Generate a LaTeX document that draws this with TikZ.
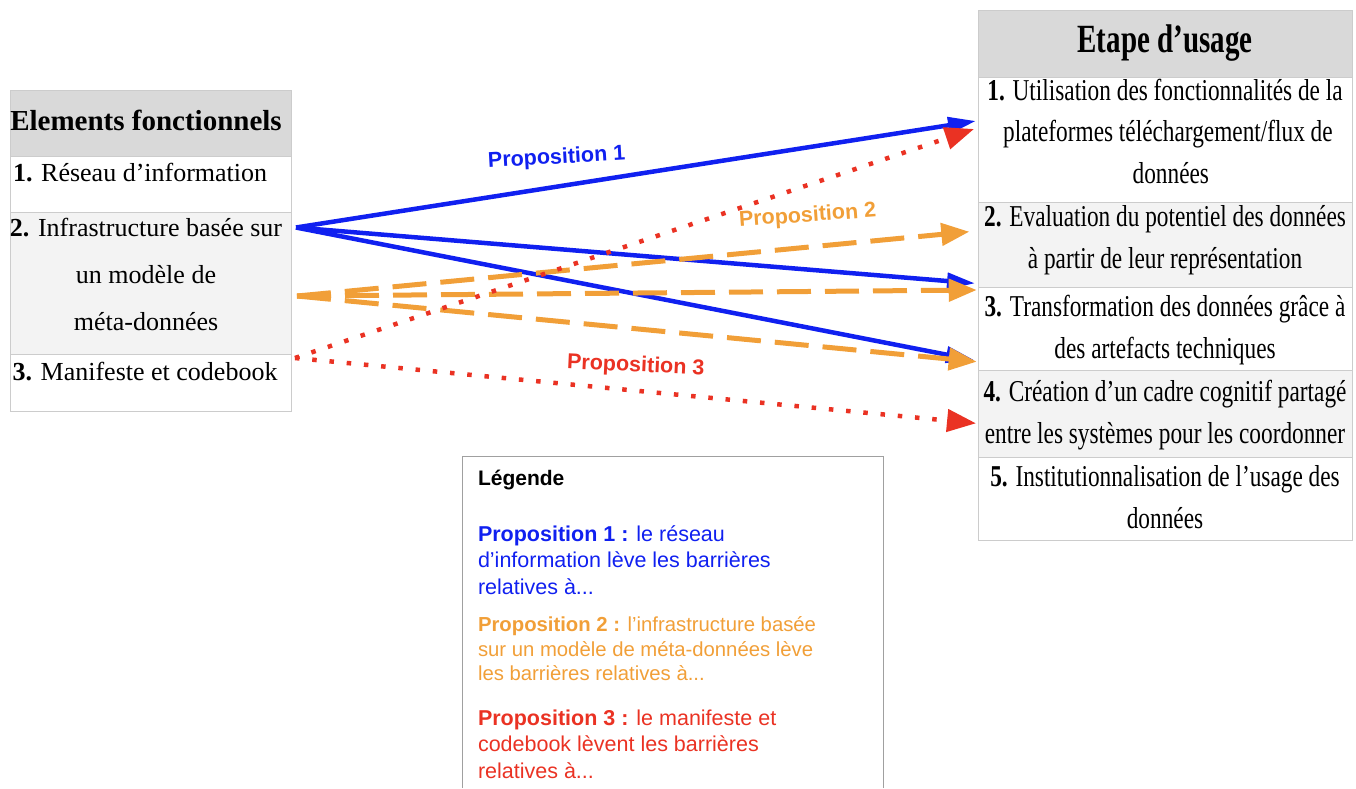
\documentclass[tikz,border=0pt]{standalone}
\usepackage{graphicx}
\usepackage{fontspec}
\setmainfont{Liberation Serif}
\newfontfamily\lsans{Liberation Sans}
\usetikzlibrary{arrows.meta}
\definecolor{pblue}{RGB}{16,32,240}
\definecolor{porange}{RGB}{241,159,56}
\definecolor{pred}{RGB}{234,50,35}
\definecolor{hdrgray}{RGB}{217,217,217}
\definecolor{rowgray}{RGB}{243,243,243}
\definecolor{cellline}{RGB}{204,204,204}
\definecolor{legline}{RGB}{160,160,160}
\newcommand{\vsr}[1]{\scalebox{1}[1.3]{#1}}
\newcommand{\vsh}[1]{\scalebox{1}[1.38]{#1}}
\begin{document}
\begin{tikzpicture}[x=1pt,y=-1pt,
  cell/.style={draw=cellline, line width=1pt, anchor=north west, inner sep=0pt, outer sep=0pt},
  ltxt/.style={inner sep=0pt, outer sep=0pt, font=\fontsize{26}{46.7}\selectfont, align=center},
  rtxt/.style={inner sep=0pt, outer sep=0pt, anchor=base, font=\fontsize{23.3}{41.5}\selectfont, align=center},
  legtxt/.style={inner sep=0pt, outer sep=0pt, anchor=base west, align=left, font=\lsans},
  plabel/.style={inner sep=0pt, outer sep=0pt, anchor=base, font=\lsans\bfseries\fontsize{21.5}{26}\selectfont},
  bluearrow/.style={pblue, line width=4.5pt, -{Triangle[length=28pt,width=16pt]}},
  orangearrow/.style={porange, line width=5pt, dash pattern=on 34pt off 14pt, -{Triangle[length=28pt,width=22pt]}},
  redarrow/.style={pred, line width=4.5pt, dash pattern=on 4.5pt off 12.8pt, -{Triangle[length=29pt,width=22pt]}}
]
\useasboundingbox (0,0) rectangle (1356,788);

% ---- left table ----
\node[cell, fill=hdrgray, minimum width=281.7pt, minimum height=66pt] (l0) at (10,90) {};
\node[cell, fill=white, minimum width=281.7pt, minimum height=56pt] (l1) at (10,156) {};
\node[cell, fill=rowgray, minimum width=281.7pt, minimum height=142pt] (l2) at (10,212) {};
\node[cell, fill=white, minimum width=281.7pt, minimum height=57pt] (l3) at (10,354) {};

\node[inner sep=0pt, anchor=base, font=\fontsize{29}{35}\selectfont\bfseries] (tl0) at (146,130) {Elements fonctionnels};
\node[ltxt, anchor=base west] (tl1) at (13,181.7) {\textbf{1.} Réseau d’information};
\node[ltxt, anchor=base] (tl2) at (146,330) {\textbf{2.} Infrastructure basée sur\\un modèle de\\méta-données};
\node[ltxt, anchor=base] (tl3) at (145,380) {\textbf{3.} Manifeste et codebook};

% ---- right table ----
\node[cell, fill=hdrgray, minimum width=374.7pt, minimum height=67pt] (r0) at (978,10) {};
\node[cell, fill=white, minimum width=374.7pt, minimum height=125.7pt] (r1) at (978,77) {};
\node[cell, fill=rowgray, minimum width=374.7pt, minimum height=84.3pt] (r2) at (978,202.7) {};
\node[cell, fill=white, minimum width=374.7pt, minimum height=83.7pt] (r3) at (978,287) {};
\node[cell, fill=rowgray, minimum width=374.7pt, minimum height=86.3pt] (r4) at (978,370.7) {};
\node[cell, fill=white, minimum width=374.7pt, minimum height=83.7pt] (r5) at (978,457) {};

\node[inner sep=0pt, anchor=base, font=\fontsize{29}{35}\selectfont\bfseries] (tr0) at (1165,52) {\vsh{Etape d’usage}};
\node[rtxt] (tr1) at (1165,183.3) {\vsr{\textbf{1.} Utilisation des fonctionnalités de la}\\\vsr{\ plateformes téléchargement/flux de}\\\vsr{\ \ données}};
\node[rtxt] (tr2) at (1165,268) {\vsr{\textbf{2.} Evaluation du potentiel des données}\\\vsr{à partir de leur représentation}};
\node[rtxt] (tr3) at (1165,358) {\vsr{\textbf{3.} Transformation des données grâce à}\\\vsr{des artefacts techniques}};
\node[rtxt] (tr4) at (1165,443) {\vsr{\textbf{4.} Création d’un cadre cognitif partagé}\\\vsr{entre les systèmes pour les coordonner}};
\node[rtxt] (tr5) at (1165,528) {\vsr{\textbf{5.} Institutionnalisation de l’usage des}\\\vsr{données}};

% ---- arrow endpoints ----
\coordinate (sB) at (296,227.5);
\coordinate (sO) at (297,296);
\coordinate (sR) at (295,358);
\coordinate (eB1) at (976,121);
\coordinate (eB2) at (975,283.3);
\coordinate (eB3) at (974,360);
\coordinate (eO1) at (969.3,231.7);
\coordinate (eO2) at (976.7,290);
\coordinate (eO3) at (976.7,361.7);
\coordinate (eR1) at (974,129);
\coordinate (eR2) at (976,423.3);

\draw[bluearrow] (sB) -- (eB1);
\draw[bluearrow] (sB) -- (eB2);
\draw[bluearrow] (sB) -- (eB3);
\draw[orangearrow] (sO) -- (eO1);
\draw[orangearrow] (sO) -- (eO2);
\draw[orangearrow] (sO) -- (eO3);
\draw[redarrow] (sR) -- (eR1);
\draw[redarrow] (sR) -- (eR2);

% ---- arrow labels ----
\node[plabel, text=pblue, rotate=3.3] (p1) at (557,163.8) {Proposition 1};
\node[plabel, text=porange, rotate=4.1] (p2) at (808,221.7) {Proposition 2};
\node[plabel, text=pred, rotate=-2.7] (p3) at (635.5,371.7) {Proposition 3};

% ---- legend ----
\coordinate (lgA) at (462.3,788);
\coordinate (lgB) at (462.3,456.7);
\coordinate (lgC) at (883.3,456.7);
\coordinate (lgD) at (883.3,788);
\draw[legline, line width=1.2pt] (lgA) -- (lgB) -- (lgC) -- (lgD);

\node[legtxt, font=\lsans\bfseries\fontsize{21}{26}\selectfont] (lg0) at (478,485) {Légende};
\node[legtxt, text=pblue, font=\lsans\fontsize{21.5}{26.3}\selectfont] (lg1) at (478,594) {\textbf{Proposition 1 :} le réseau\\d’information lève les barrières\\relatives à...};
\node[legtxt, text=porange, font=\lsans\fontsize{20.3}{24.5}\selectfont] (lg2) at (478,680.7) {\textbf{Proposition 2 :} l’infrastructure basée\\sur un modèle de méta-données lève\\les barrières relatives à...};
\node[legtxt, text=pred, font=\lsans\fontsize{21.5}{26.5}\selectfont] (lg3) at (478,778) {\textbf{Proposition 3 :} le manifeste et\\codebook lèvent les barrières\\relatives à...};
\end{tikzpicture}
\end{document}
